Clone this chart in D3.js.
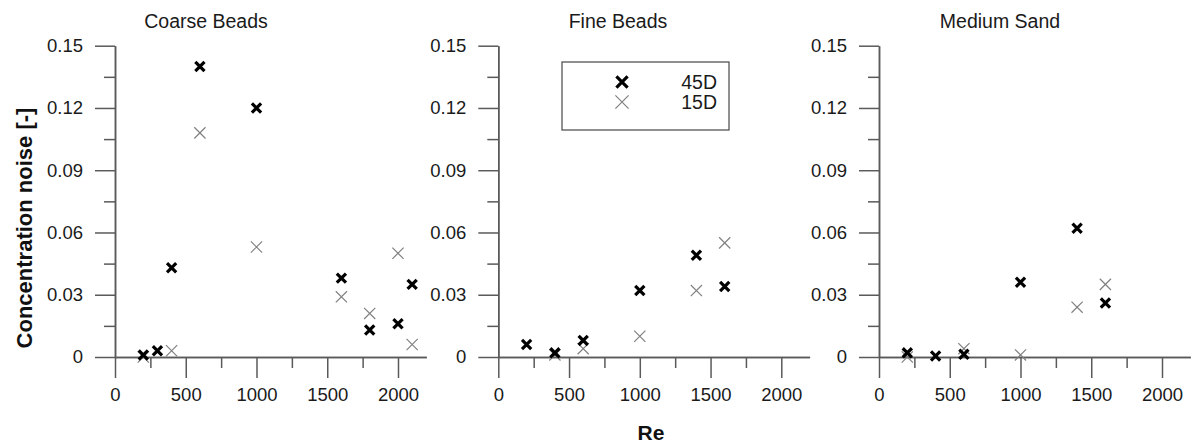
<!DOCTYPE html>
<html>
<head>
<meta charset="utf-8">
<script src="https://cdn.jsdelivr.net/npm/d3@7"></script>
<style>
  html, body { margin: 0; padding: 0; background: #fff; }
  svg { display: block; font-family: "Liberation Sans", Arial, sans-serif; }
</style>
</head>
<body>
<svg id="chart" width="1194" height="447"></svg>
<script>
// Reynolds numbers and concentration noise per material
const panelTitles = ["Coarse Beads", "Fine Beads", "Medium Sand"];

const coarseRe45 = [200, 300, 400, 600, 1000, 1600, 1800, 2000, 2100];
const coarse45   = [0.001, 0.003, 0.043, 0.140, 0.120, 0.038, 0.013, 0.016, 0.035];
const coarseRe15 = [200, 400, 600, 1000, 1600, 1800, 2000, 2100];
const coarse15   = [0.000, 0.003, 0.108, 0.053, 0.029, 0.021, 0.050, 0.006];

const fineRe45 = [200, 400, 600, 1000, 1400, 1600];
const fine45   = [0.006, 0.002, 0.008, 0.032, 0.049, 0.034];
const fineRe15 = [400, 600, 1000, 1400, 1600];
const fine15   = [0.001, 0.004, 0.010, 0.032, 0.055];

const sandRe45 = [200, 400, 600, 1000, 1400, 1600];
const sand45   = [0.002, 0.0005, 0.0013, 0.036, 0.062, 0.026];
const sandRe15 = [200, 600, 1000, 1400, 1600];
const sand15   = [0.000, 0.004, 0.001, 0.024, 0.035];

const xMajorTicks = [0, 500, 1000, 1500, 2000];
const xMinorTicks = [250, 750, 1250, 1750];
const yMajorTicks = [0, 0.03, 0.06, 0.09, 0.12, 0.15];
const yMinorTicks = [0.015, 0.045, 0.075, 0.105, 0.135];
const yTickLabels = ["0", "0.03", "0.06", "0.09", "0.12", "0.15"];

const seriesNames = ["45D", "15D"];

const panels = [
  { title: panelTitles[0], x0: 115,   titleX: 206,
    s45: { re: coarseRe45, v: coarse45 }, s15: { re: coarseRe15, v: coarse15 } },
  { title: panelTitles[1], x0: 498.3, titleX: 618,
    s45: { re: fineRe45, v: fine45 }, s15: { re: fineRe15, v: fine15 } },
  { title: panelTitles[2], x0: 879,   titleX: 1000,
    s45: { re: sandRe45, v: sand45 }, s15: { re: sandRe15, v: sand15 } }
];

const svg = d3.select("#chart");
const fontFamily = '"Liberation Sans", Arial, sans-serif';
const axisColor = "#5a5a5a";
const textColor = "#1a1a1a";
const grey = "#808080";

const pxPerRe = 0.1415;
const y = d3.scaleLinear().domain([0, 0.15]).range([357, 45.7]);

// x-mark symbol centred on (0,0)
function cross(h) {
  return `M${-h},${-h}L${h},${h}M${-h},${h}L${h},${-h}`;
}

const style45 = { h: 4.6, w: 3.2, c: "#000" };
const style15 = { h: 5.6, w: 1.2, c: grey };

function styleAxis(g) {
  g.attr("font-family", fontFamily);
  g.selectAll("path.domain").attr("stroke", axisColor).attr("stroke-width", 1.5);
  g.selectAll(".tick line").attr("stroke", axisColor).attr("stroke-width", 1.5);
  g.selectAll(".tick text").attr("fill", textColor).style("font-size", "18.5px");
}

panels.forEach(p => {
  const x = d3.scaleLinear().domain([0, 2200]).range([p.x0, p.x0 + 2200 * pxPerRe]);
  const g = svg.append("g");

  // minor ticks first, then labelled major axes
  g.append("g").attr("transform", `translate(0,${y(0)})`)
    .call(d3.axisBottom(x).tickValues(xMinorTicks).tickSize(11).tickFormat("").tickSizeOuter(0))
    .call(styleAxis);
  g.append("g").attr("transform", `translate(0,${y(0)})`)
    .call(d3.axisBottom(x).tickValues(xMajorTicks).tickSize(21).tickPadding(10).tickSizeOuter(0)
      .tickFormat(d3.format("d")))
    .call(styleAxis);

  g.append("g").attr("transform", `translate(${p.x0},0)`)
    .call(d3.axisLeft(y).tickValues(yMinorTicks).tickSize(11).tickFormat("").tickSizeOuter(0))
    .call(styleAxis);
  g.append("g").attr("transform", `translate(${p.x0},0)`)
    .call(d3.axisLeft(y).tickValues(yMajorTicks).tickSize(20).tickPadding(12).tickSizeOuter(0)
      .tickFormat((d, i) => yTickLabels[i]))
    .call(styleAxis);

  g.append("text")
    .attr("x", p.titleX).attr("y", 28)
    .attr("text-anchor", "middle")
    .attr("fill", textColor)
    .style("font-size", "19.5px")
    .text(p.title);

  const draw = (s, st) => {
    g.append("g").selectAll("path")
      .data(s.re.map((r, i) => [r, s.v[i]]))
      .join("path")
      .attr("transform", d => `translate(${x(d[0])},${y(d[1])})`)
      .attr("d", cross(st.h))
      .attr("fill", "none")
      .attr("stroke", st.c)
      .attr("stroke-width", st.w);
  };
  draw(p.s15, style15);
  draw(p.s45, style45);
});

// Legend
const leg = svg.append("g");
leg.append("rect")
  .attr("x", 562).attr("y", 62).attr("width", 167).attr("height", 68)
  .attr("fill", "#fff").attr("stroke", "#555").attr("stroke-width", 1.3);
const legStyles = [style45, style15];
const legY = [82, 102];
seriesNames.forEach((name, i) => {
  const st = legStyles[i];
  leg.append("path")
    .attr("transform", `translate(622,${legY[i]})`)
    .attr("d", cross(st.h + 1))
    .attr("fill", "none").attr("stroke", st.c).attr("stroke-width", st.w);
  leg.append("text")
    .attr("x", 717).attr("y", legY[i]).attr("dy", "0.36em")
    .attr("text-anchor", "end")
    .attr("fill", textColor)
    .style("font-size", "19.5px")
    .text(name);
});

// Axis titles
svg.append("text")
  .attr("transform", "translate(24,228) rotate(-90)")
  .attr("text-anchor", "middle")
  .attr("dy", "0.36em")
  .attr("fill", "#111")
  .style("font-size", "22px").style("font-weight", "bold")
  .text("Concentration noise [-]");

svg.append("text")
  .attr("x", 651).attr("y", 440)
  .attr("text-anchor", "middle")
  .attr("fill", "#111")
  .style("font-size", "21px").style("font-weight", "bold")
  .text("Re");
</script>
</body>
</html>
